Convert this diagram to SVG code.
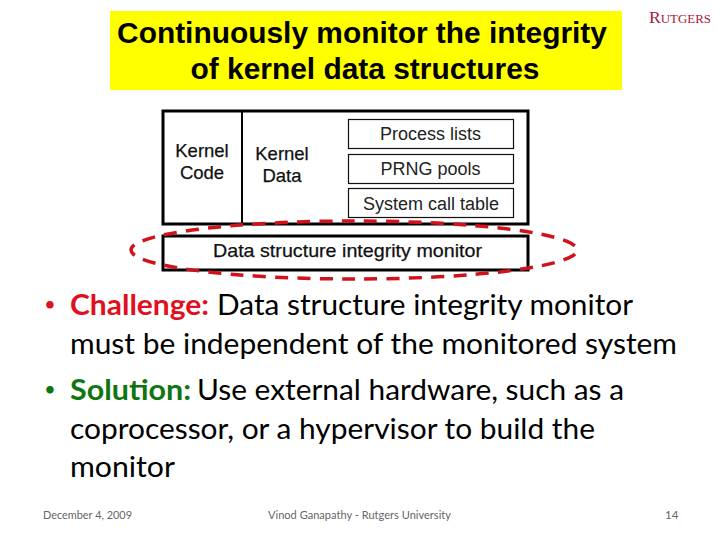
<svg xmlns="http://www.w3.org/2000/svg" width="720" height="540" viewBox="0 0 720 540">
<style>
text{font-family:"Liberation Sans",Arial,sans-serif;fill:#000}
.d{font-size:18px;text-anchor:middle;fill:#222}
.b{font-size:18.500px;text-anchor:middle;fill:#111;stroke:#111;stroke-width:.25px}
.t{font-size:29.900px;font-weight:bold;text-anchor:middle}
.c{font-family:Lato,"Noto Sans",sans-serif;font-size:28.500px;fill:#000}
.f{font-family:Lato,"Noto Sans",sans-serif;font-size:11.500px;fill:#666}
.o{fill:#fff;stroke:#000;stroke-width:3px}
.i{fill:#fff;stroke:#111;stroke-width:1.2px}
.r{fill:#e01020;font-weight:bold}
.g{fill:#0f760f;font-weight:bold}
.u{font-size:17px}
</style>
<rect width="720" height="540" fill="#fff"/>
<g id="title"><rect x="110" y="11" width="512" height="79" fill="#ffff00"/>
<text class="t" x="362" y="43">Continuously monitor the integrity</text>
<text class="t" x="365" y="79">of kernel data structures</text></g>
<g id="logo"><text x="649" y="23" textLength="62" lengthAdjust="spacingAndGlyphs" style="fill:#a8183c;font-family:'Liberation Serif',serif;font-size:12.500px"><tspan font-size="17">R</tspan>UTGERS</text></g>
<g id="kernel"><rect class="o" x="163" y="111" width="365" height="113"/>
<line x1="242" y1="111" x2="242" y2="224" stroke="#000" stroke-width="2"/>
<text class="b" x="202" y="157">Kernel</text><text class="b" x="202" y="179">Code</text>
<text class="b" x="282" y="160">Kernel</text><text class="b" x="282" y="182">Data</text></g>
<g id="process"><rect class="i" x="348.500" y="119.500" width="165" height="29"/><text class="d" x="430.500" y="140">Process lists</text></g>
<g id="prng"><rect class="i" x="348.500" y="154.500" width="165" height="29"/><text class="d" x="430.500" y="175">PRNG pools</text></g>
<g id="syscall"><rect class="i" x="348.500" y="188.500" width="165" height="29"/><text class="d" x="431" y="210">System call table</text></g>
<g id="monitor"><rect class="o" x="163" y="236" width="365" height="34"/><text class="b" x="347.500" y="257" textLength="269" lengthAdjust="spacingAndGlyphs">Data structure integrity monitor</text></g>
<g id="connectors"><ellipse cx="354" cy="250" rx="223" ry="29" fill="none" stroke="#d0121b" stroke-width="3.500" stroke-dasharray="13 9.280" stroke-dashoffset="17.640"/></g>
<g id="bullets">
<text class="c u r" x="45" y="310">•</text>
<text class="c r" x="70" y="315" textLength="139" lengthAdjust="spacingAndGlyphs">Challenge:</text>
<text class="c" x="217" y="315" textLength="416" lengthAdjust="spacingAndGlyphs">Data structure integrity monitor</text>
<text class="c" x="70" y="354" textLength="607" lengthAdjust="spacingAndGlyphs">must be independent of the monitored system</text>
<text class="c u g" x="45" y="395">•</text>
<text class="c g" x="70" y="400" textLength="121" lengthAdjust="spacingAndGlyphs">Solution:</text>
<text class="c" x="197" y="400" textLength="427" lengthAdjust="spacingAndGlyphs">Use external hardware, such as a</text>
<text class="c" x="70" y="439" textLength="525" lengthAdjust="spacingAndGlyphs">coprocessor, or a hypervisor to build the</text>
<text class="c" x="70" y="477" textLength="105" lengthAdjust="spacingAndGlyphs">monitor</text>
</g>
<g id="footer">
<text class="f" x="43" y="519" textLength="89" lengthAdjust="spacingAndGlyphs">December 4, 2009</text>
<text class="f" x="268" y="519" textLength="183" lengthAdjust="spacingAndGlyphs">Vinod Ganapathy - Rutgers University</text>
<text class="f" x="665" y="519">14</text>
</g>
</svg>
